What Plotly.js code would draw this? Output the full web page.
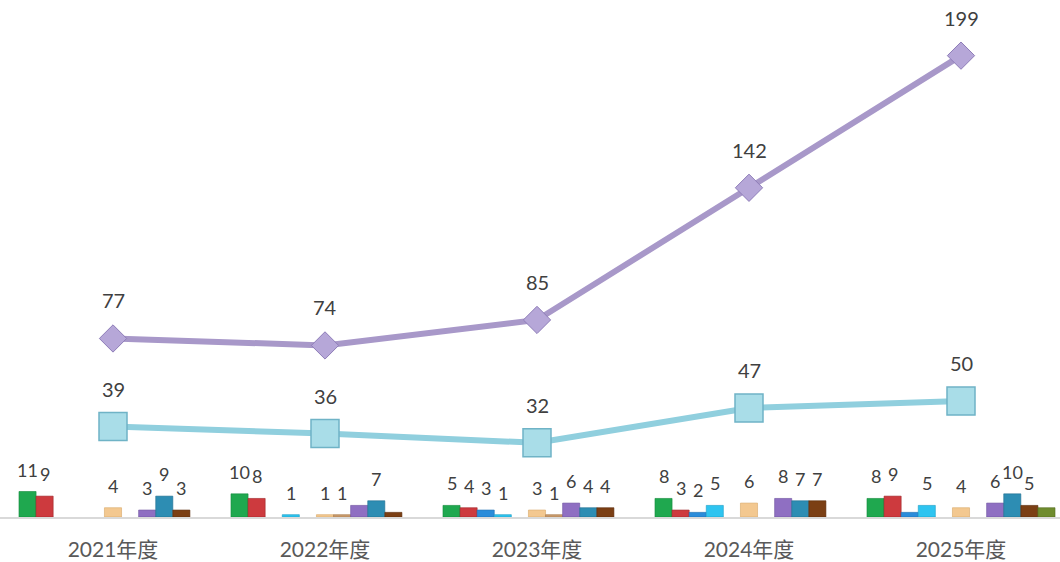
<!DOCTYPE html>
<html>
<head>
<meta charset="utf-8">
<script src="https://cdn.plot.ly/plotly-3.0.1.min.js"></script>
<style>
html,body{margin:0;padding:0;background:#fff;overflow:hidden;}
#chart{width:1060px;height:562px;}
</style>
</head>
<body>
<div id="chart"></div>
<script>
// ---- data ----
const categories = ['2021年度', '2022年度', '2023年度', '2024年度', '2025年度'];

const seriesGreen  = [11, 10, 5, 8, 8];
const seriesRed    = [9, 8, 4, 3, 9];
const seriesBlue   = [null, null, 3, 2, 2];
const seriesCyan   = [null, 1, 1, 5, 5];
const seriesEmpty  = [null, null, null, null, null];
const seriesTan    = [4, 1, 3, 6, 4];
const seriesCamel  = [null, 1, 1, null, null];
const seriesPurple = [3, 5, 6, 8, 6];
const seriesTeal   = [9, 7, 4, 7, 10];
const seriesBrown  = [3, 2, 4, 7, 5];
const seriesOlive  = [null, null, null, null, 4];

const lineTotal = [77, 74, 85, 142, 199];
const lineSub   = [39, 36, 32, 47, 50];

// labels not shown in the reference: [series index, category index]
const hiddenLabels = [[7, 1], [9, 1], [2, 4], [10, 4]];

// ---- styling ----
const barSeries = [
  {v: seriesGreen,  c: '#1FA84F', l: '#138A3A'},
  {v: seriesRed,    c: '#CD3A3E', l: '#A02528'},
  {v: seriesBlue,   c: '#2A8CDA', l: '#1B6BB0'},
  {v: seriesCyan,   c: '#2EC4F0', l: '#1C9DC4'},
  {v: seriesEmpty,  c: '#cccccc', l: '#aaaaaa'},
  {v: seriesTan,    c: '#F3C890', l: '#D9A866'},
  {v: seriesCamel,  c: '#C99B6C', l: '#A97A4C'},
  {v: seriesPurple, c: '#8F6FC2', l: '#6D50A0'},
  {v: seriesTeal,   c: '#2D8DB3', l: '#1E6D8E'},
  {v: seriesBrown,  c: '#7B3F14', l: '#5A2C0C'},
  {v: seriesOlive,  c: '#6F8C2E', l: '#546C1E'}
];

const bargap = 0.113;
const N = barSeries.length;
const slot = (1 - bargap) / N;
const fontFam = 'Lato, "Noto Sans CJK SC", sans-serif';

const traces = [];
const annotations = [];

barSeries.forEach((s, si) => {
  traces.push({
    type: 'bar',
    x: categories,
    y: s.v,
    marker: {color: s.c, line: {color: s.l, width: 0.6}},
    hoverinfo: 'none'
  });
  s.v.forEach((val, ci) => {
    if (val === null) return;
    if (hiddenLabels.some(h => h[0] === si && h[1] === ci)) return;
    annotations.push({
      x: ci + (si - (N - 1) / 2) * slot,
      y: val,
      xref: 'x', yref: 'y',
      text: String(val),
      showarrow: false,
      yshift: 22,
      font: {family: fontFam, size: 18, color: '#404040'}
    });
  });
});

traces.push({
  type: 'scatter',
  mode: 'lines+markers',
  x: categories,
  y: lineTotal,
  line: {color: '#A898C9', width: 6},
  marker: {symbol: 'diamond', size: 21, color: '#B6A7D8', line: {color: '#8E7DB8', width: 1}},
  hoverinfo: 'none'
});
traces.push({
  type: 'scatter',
  mode: 'lines+markers',
  x: categories,
  y: lineSub,
  line: {color: '#90CFDE', width: 6},
  marker: {symbol: 'square', size: 28, color: '#A9DDE8', line: {color: '#6FB3C6', width: 1.5}},
  hoverinfo: 'none'
});

[lineTotal, lineSub].forEach(arr => {
  arr.forEach((val, ci) => {
    annotations.push({
      x: categories[ci], y: val, xref: 'x', yref: 'y',
      text: String(val), showarrow: false, yshift: 38,
      font: {family: fontFam, size: 20, color: '#404040'}
    });
  });
});

const layout = {
  width: 1060, height: 562,
  margin: {l: 0, r: 0, t: 0, b: 45},
  paper_bgcolor: '#ffffff',
  plot_bgcolor: '#ffffff',
  showlegend: false,
  hovermode: false,
  barmode: 'group',
  bargap: bargap,
  bargroupgap: 0,
  font: {family: fontFam},
  xaxis: {
    type: 'category',
    range: [-0.533, 4.467],
    showline: true, linecolor: '#D9D9D9', linewidth: 1.5,
    ticks: '', showgrid: false, zeroline: false,
    tickfont: {family: fontFam, size: 21, color: '#595959'},
    ticklabelstandoff: 13
  },
  yaxis: {
    range: [0, 223],
    visible: false, showgrid: false, zeroline: false
  },
  annotations: annotations
};

Plotly.newPlot('chart', traces, layout, {displayModeBar: false, staticPlot: true});
</script>
</body>
</html>
